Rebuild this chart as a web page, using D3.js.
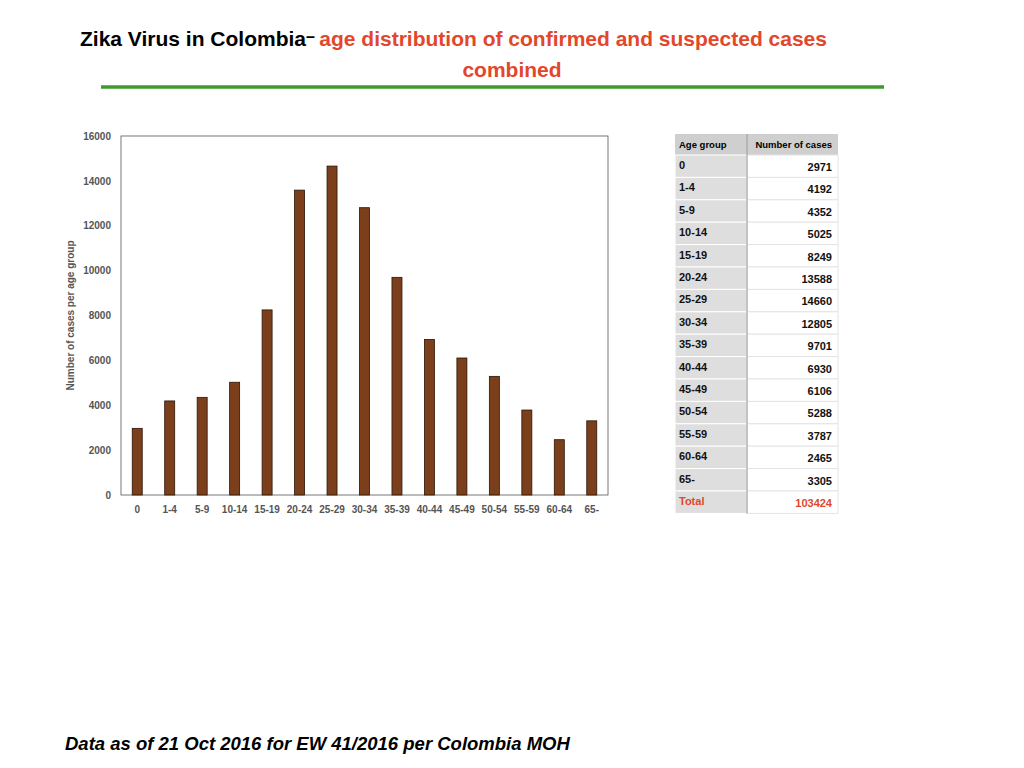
<!DOCTYPE html>
<html><head><meta charset="utf-8">
<script src="https://cdn.jsdelivr.net/npm/d3@7"></script>
<style>body{margin:0;background:#fff;font-family:"Liberation Sans",Arial,sans-serif}</style>
</head><body>
<svg id="chart" width="1024" height="768"></svg>
<script>
const ageGroups = ["0","1-4","5-9","10-14","15-19","20-24","25-29","30-34","35-39","40-44","45-49","50-54","55-59","60-64","65-"];
const cases = [2971,4192,4352,5025,8249,13588,14660,12805,9701,6930,6106,5288,3787,2465,3305];
const totalCases = 103424;
const yTicks = [0,2000,4000,6000,8000,10000,12000,14000,16000];

const svg = d3.select("#chart");

// title
const t = svg.append("text").attr("x", 80).attr("y", 46).attr("font-size", 21).attr("font-weight", "bold");
t.append("tspan").attr("fill", "#000").text("Zika Virus in Colombia");
t.append("tspan").attr("fill", "#000").attr("dy", -4).attr("font-size", 16).text("– ");
t.append("tspan").attr("fill", "#e2472b").attr("dy", 4).text(" age  distribution of confirmed and suspected cases");
svg.append("text").attr("x", 512).attr("y", 77).attr("text-anchor", "middle")
  .attr("font-size", 21).attr("font-weight", "bold").attr("fill", "#e2472b").text("combined");
svg.append("line").attr("x1", 101).attr("x2", 884).attr("y1", 87).attr("y2", 87)
  .attr("stroke", "#3f9a2c").attr("stroke-width", 3.5);

// chart
const margin = {left: 121, top: 136};
const width = 487, height = 359;
const g = svg.append("g").attr("transform", `translate(${margin.left},${margin.top})`);
const x = d3.scaleBand().domain(ageGroups).range([0, width]);
const y = d3.scaleLinear().domain([0, 16000]).range([height, 0]);

g.append("rect").attr("width", width).attr("height", height).attr("fill", "none").attr("stroke", "#555").attr("stroke-width", 0.8);

g.selectAll(".bar").data(cases).join("rect")
  .attr("x", (d, i) => x(ageGroups[i]) + x.bandwidth() / 2 - 5)
  .attr("width", 10)
  .attr("y", d => y(d))
  .attr("height", d => height - y(d))
  .attr("fill", "#7b3f1b").attr("stroke", "#2a1406").attr("stroke-width", 0.8);

const yAxis = g.append("g").call(d3.axisLeft(y).tickValues(yTicks).tickSize(0).tickPadding(10).tickFormat(d3.format("d")));
yAxis.select(".domain").remove();
yAxis.selectAll("text").attr("font-size", 10).attr("font-weight", "bold").attr("fill", "#555").attr("font-family", "Liberation Sans, Arial");

const xAxis = g.append("g").attr("transform", `translate(0,${height})`)
  .call(d3.axisBottom(x).tickSize(0).tickPadding(11));
xAxis.select(".domain").remove();
xAxis.selectAll("text").attr("font-size", 10).attr("font-weight", "bold").attr("fill", "#555").attr("font-family", "Liberation Sans, Arial");

g.append("text").attr("transform", "rotate(-90)").attr("x", -height / 2).attr("y", -47)
  .attr("text-anchor", "middle").attr("font-size", 10).attr("font-weight", "bold").attr("fill", "#555")
  .text("Number  of cases per age group");

// table
const tx = 675, ty = 134, c1 = 72, c2 = 91, hh = 21, rh = 22.4;
const tg = svg.append("g").attr("transform", `translate(${tx},${ty})`);
tg.append("rect").attr("width", c1 + c2).attr("height", hh).attr("fill", "#cfcfcf");
tg.append("text").attr("x", 4).attr("y", 14).attr("font-size", 9.5).attr("font-weight", "bold").text("Age group");
tg.append("text").attr("x", c1 + c2 - 6).attr("y", 14).attr("text-anchor", "end").attr("font-size", 9.5).attr("font-weight", "bold").text("Number of cases");
const rows = ageGroups.map((a, i) => [a, cases[i]]).concat([["Total", totalCases]]);
const rg = tg.selectAll(".row").data(rows).join("g").attr("transform", (d, i) => `translate(0,${hh + i * rh})`);
rg.append("rect").attr("width", c1).attr("height", rh).attr("fill", "#dedede").attr("stroke", "#fff");
rg.append("rect").attr("x", c1).attr("width", c2).attr("height", rh).attr("fill", "#fff").attr("stroke", "#e4e4e4");
rg.append("text").attr("x", 4).attr("y", 14).attr("font-size", 11).attr("font-weight", "bold")
  .attr("fill", (d, i) => i === rows.length - 1 ? "#e2472b" : "#111").text(d => d[0]);
rg.append("text").attr("x", c1 + c2 - 6).attr("y", 16).attr("text-anchor", "end").attr("font-size", 11).attr("font-weight", "bold")
  .attr("fill", (d, i) => i === rows.length - 1 ? "#e2472b" : "#111").text(d => d[1]);
tg.append("line").attr("x1", c1).attr("x2", c1).attr("y1", 0).attr("y2", hh + rows.length * rh).attr("stroke", "#999");

// footer
svg.append("text").attr("x", 65).attr("y", 750).attr("font-size", 18.5).attr("font-weight", "bold").attr("font-style", "italic")
  .text("Data as of 21 Oct 2016 for EW 41/2016 per Colombia MOH");
</script>
</body></html>
